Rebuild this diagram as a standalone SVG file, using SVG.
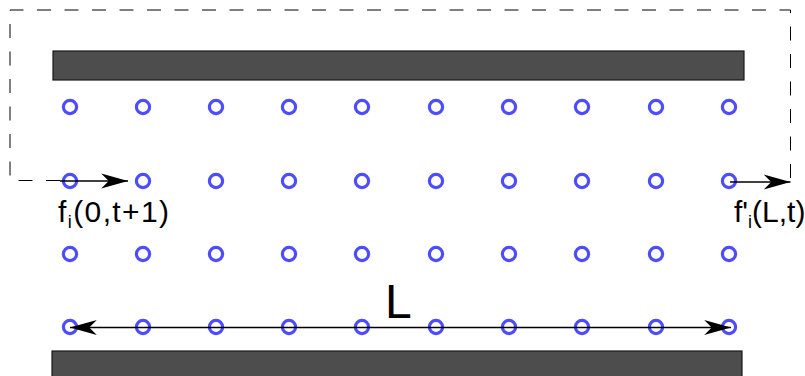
<svg xmlns="http://www.w3.org/2000/svg" width="805" height="376" viewBox="0 0 805 376">
<style>
.bar{fill:#4d4d4d;stroke:#1a1a1a;stroke-width:1.2}
.site{fill:none;stroke:#4d4dff;stroke-width:3.2}
.lbl{font-family:"Liberation Sans",Arial,sans-serif;fill:#000}
.conn{stroke:#000;stroke-width:1.4;fill:none}
.dash{stroke:#000;stroke-width:1;fill:none;stroke-dasharray:14 13.5}
</style>
<defs>
<marker id="ah" markerUnits="userSpaceOnUse" markerWidth="30" markerHeight="20" viewBox="-26 -8 28 16" refX="0" refY="0" orient="auto-start-reverse">
<path d="M0,0 L-25,-7 L-18,0 L-25,7 Z" fill="#000"/>
</marker>
<circle id="s" r="6.6" class="site"/>
</defs>
<g id="walls">
<rect id="wall-top" class="bar" x="53" y="51" width="691" height="29"/>
<rect id="wall-bottom" class="bar" x="52" y="351" width="690" height="30"/>
</g>
<g id="lattice">
<g id="row1">
<use href="#s" x="70" y="107"/><use href="#s" x="143" y="107"/><use href="#s" x="216" y="107"/><use href="#s" x="289" y="107"/><use href="#s" x="362" y="107"/><use href="#s" x="436" y="107"/><use href="#s" x="509" y="107"/><use href="#s" x="582" y="107"/><use href="#s" x="656" y="107"/><use href="#s" x="729" y="107"/>
</g>
<g id="row2">
<use href="#s" x="70" y="181"/><use href="#s" x="143" y="181"/><use href="#s" x="216" y="181"/><use href="#s" x="289" y="181"/><use href="#s" x="362" y="181"/><use href="#s" x="436" y="181"/><use href="#s" x="509" y="181"/><use href="#s" x="582" y="181"/><use href="#s" x="656" y="181"/><use href="#s" x="729" y="181"/>
</g>
<g id="row3">
<use href="#s" x="70" y="254"/><use href="#s" x="143" y="254"/><use href="#s" x="216" y="254"/><use href="#s" x="289" y="254"/><use href="#s" x="362" y="254"/><use href="#s" x="436" y="254"/><use href="#s" x="509" y="254"/><use href="#s" x="582" y="254"/><use href="#s" x="656" y="254"/><use href="#s" x="729" y="254"/>
</g>
<g id="row4">
<use href="#s" x="70" y="327"/><use href="#s" x="143" y="327"/><use href="#s" x="216" y="327"/><use href="#s" x="289" y="327"/><use href="#s" x="362" y="327"/><use href="#s" x="436" y="327"/><use href="#s" x="509" y="327"/><use href="#s" x="582" y="327"/><use href="#s" x="656" y="327"/><use href="#s" x="729" y="327"/>
</g>
</g>
<g id="connectors">
<path id="boundary" class="dash" d="M60,180.5 H10 V10 H790.5 V180.5"/>
<line id="arrow-in" class="conn" x1="60" y1="181" x2="128" y2="181" marker-end="url(#ah)"/>
<line id="arrow-out" class="conn" x1="730" y1="182" x2="790.5" y2="182" marker-end="url(#ah)"/>
<line id="length" class="conn" x1="70" y1="327.5" x2="731" y2="327.5" marker-start="url(#ah)" marker-end="url(#ah)"/>
</g>
<g id="labels">
<text id="lbl-in" class="lbl" x="58" y="222" font-size="30" letter-spacing="1.4">f<tspan font-size="18" dy="6">i</tspan><tspan dy="-6">(0,t+1)</tspan></text>
<text id="lbl-out" class="lbl" x="734" y="222" font-size="30">f'<tspan font-size="18" dy="6">i</tspan><tspan dy="-6">(L,t)</tspan></text>
<text id="lbl-L" class="lbl" x="385" y="318" font-size="48">L</text>
</g>
</svg>
